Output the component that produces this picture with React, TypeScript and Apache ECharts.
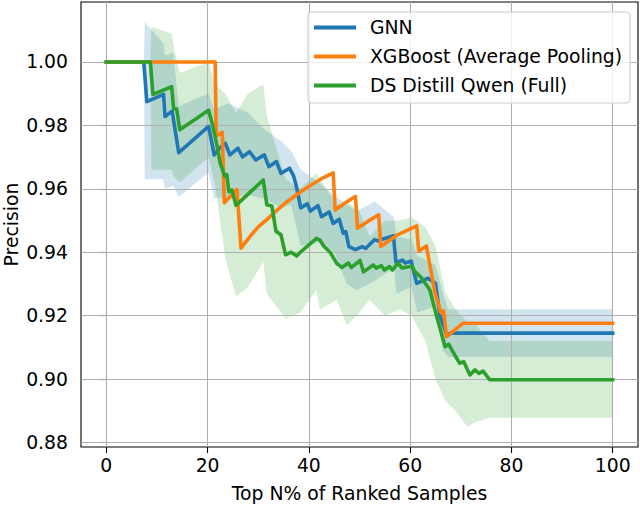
import React, { useEffect, useRef } from "react";
import * as echarts from "echarts";

const FONT = "DejaVu Sans";
const FONT_SIZE = 18.8;

const xTicks = [0, 20, 40, 60, 80, 100];
const yTicks = [0.88, 0.9, 0.92, 0.94, 0.96, 0.98, 1.0];

const names = ["GNN", "XGBoost (Average Pooling)", "DS Distill Qwen (Full)"];
const colors = ["#1f77b4", "#ff7f0e", "#2ca02c"];
const bandColors = ["rgba(31,119,180,0.2)", "rgba(44,160,44,0.2)"];

// GNN mean precision
const gnnX = [0, 7.4, 8.0, 11.3, 11.6, 13.0, 14.3, 20.2, 21.3, 22.5, 23.5, 24.4, 26.0, 26.9, 28.3, 29.5, 31.2, 32.1, 33.6, 34.5, 36.2, 37.0, 37.5, 38.4, 39.7, 40.3, 41.8, 42.5, 44.0, 44.8, 46.0, 46.8, 47.3, 47.9, 49.2, 50.5, 51.2, 53.0, 53.6, 56.7, 57.2, 58.5, 59.0, 60.2, 61.3, 63.5, 65.0, 65.9, 67.2, 68.0, 100];
const gnnY = [1.0, 1.0, 0.9875, 0.9898, 0.9828, 0.9845, 0.9714, 0.9797, 0.9707, 0.973, 0.9744, 0.9707, 0.9728, 0.9701, 0.9717, 0.9691, 0.9707, 0.967, 0.9686, 0.9649, 0.9665, 0.964, 0.961, 0.954, 0.9553, 0.953, 0.9547, 0.9512, 0.9527, 0.9491, 0.9504, 0.946, 0.9465, 0.9418, 0.9408, 0.9418, 0.9412, 0.944, 0.9436, 0.9452, 0.9368, 0.9375, 0.9366, 0.9372, 0.9302, 0.9318, 0.9302, 0.92, 0.914, 0.9145, 0.9145];

// GNN spread band
const gnnBandX = [7.4, 7.6, 11.2, 11.6, 13.2, 14.3, 17, 20.2, 21.3, 24, 28, 31, 34.5, 36.5, 38.4, 42, 45, 47.5, 49.5, 53, 56.8, 57.3, 60.3, 61.4, 65, 66.5, 67.5, 100];
const gnnBandHigh = [1.0, 1.0125, 1.006, 1.002, 1.003, 0.986, 0.988, 0.99, 0.985, 0.987, 0.984, 0.979, 0.975, 0.972, 0.966, 0.962, 0.958, 0.955, 0.953, 0.956, 0.951, 0.945, 0.944, 0.939, 0.936, 0.927, 0.922, 0.922];
const gnnBandLow = [1.0, 0.963, 0.963, 0.96, 0.961, 0.9575, 0.961, 0.965, 0.957, 0.957, 0.958, 0.957, 0.954, 0.955, 0.942, 0.943, 0.94, 0.93, 0.928, 0.931, 0.935, 0.927, 0.929, 0.921, 0.923, 0.909, 0.907, 0.907];

// XGBoost mean precision
const xgbX = [0, 21.5, 21.7, 22.9, 23.3, 25.8, 26.6, 28.5, 30.0, 31.7, 33.5, 35.5, 38.3, 40.5, 42.5, 44.8, 45.2, 47.2, 49.2, 49.6, 51.7, 53.8, 54.2, 57.5, 61.3, 61.7, 63.2, 64.9, 66.1, 66.6, 67.2, 70.4, 100];
const xgbY = [1.0, 1.0, 0.9767, 0.9778, 0.9556, 0.9598, 0.9413, 0.9452, 0.948, 0.9503, 0.953, 0.9557, 0.959, 0.9613, 0.9632, 0.965, 0.9533, 0.9556, 0.9576, 0.9476, 0.9498, 0.9518, 0.9418, 0.9455, 0.9483, 0.9403, 0.942, 0.9272, 0.9209, 0.9215, 0.9134, 0.9176, 0.9176];

// DS Distill Qwen mean precision
const dsX = [0, 8.7, 9.2, 12.9, 13.3, 13.9, 14.5, 20.2, 21.0, 21.8, 22.5, 23.4, 23.8, 24.2, 24.8, 25.6, 31.0, 31.7, 32.7, 33.5, 34.5, 35.4, 36.5, 37.6, 38.3, 41.5, 42.2, 43.0, 44.2, 45.5, 46.5, 47.8, 48.4, 50.1, 50.8, 52.7, 53.3, 54.3, 54.9, 55.9, 56.5, 57.6, 58.4, 60.3, 61.0, 62.2, 63.9, 64.9, 65.9, 66.9, 67.6, 68.8, 69.8, 70.6, 71.8, 72.8, 73.6, 74.4, 75.7, 100];
const dsY = [1.0, 1.0, 0.9898, 0.9922, 0.9852, 0.9852, 0.9786, 0.9848, 0.98, 0.974, 0.968, 0.964, 0.9645, 0.9591, 0.9596, 0.9548, 0.9628, 0.955, 0.9546, 0.9466, 0.9455, 0.9392, 0.94, 0.9388, 0.94, 0.9444, 0.9438, 0.9418, 0.94, 0.9365, 0.9352, 0.9366, 0.9352, 0.9374, 0.9338, 0.936, 0.935, 0.9358, 0.9344, 0.9355, 0.9344, 0.9366, 0.935, 0.9356, 0.9338, 0.932, 0.9281, 0.9218, 0.916, 0.9102, 0.911, 0.9076, 0.905, 0.9055, 0.9013, 0.9029, 0.9018, 0.9025, 0.8998, 0.8998];

// DS Distill Qwen spread band
const dsBandX = [8.7, 8.9, 12.9, 13.3, 14.5, 20.2, 21.5, 23.5, 25.6, 28, 31.0, 31.7, 35.4, 38.3, 41.5, 42.2, 45.5, 47.5, 50, 52, 55, 58, 60.3, 63, 65, 67, 69, 71.3, 73, 75.7, 100];
const dsBandHigh = [1.0, 1.011, 1.009, 1.005, 0.9965, 1.0, 0.993, 0.99, 0.984, 0.99, 0.993, 0.983, 0.963, 0.96, 0.965, 0.963, 0.955, 0.956, 0.953, 0.945, 0.95, 0.95, 0.951, 0.948, 0.942, 0.927, 0.922, 0.918, 0.917, 0.912, 0.912];
const dsBandLow = [1.0, 0.966, 0.966, 0.964, 0.962, 0.97, 0.961, 0.938, 0.926, 0.929, 0.937, 0.927, 0.919, 0.921, 0.928, 0.922, 0.925, 0.917, 0.921, 0.925, 0.92, 0.922, 0.92, 0.912, 0.9, 0.893, 0.89, 0.885, 0.8865, 0.8878, 0.8878];

const pairs = (xs: number[], ys: number[]) => xs.map((x, i) => [x, ys[i]]);

const bandSeries = (xs: number[], lo: number[], hi: number[], fill: string) => ({
  type: "custom",
  silent: true,
  z: 1,
  clip: true,
  data: [[xs[0], lo[0]]],
  renderItem: (_params: any, api: any) => {
    const pts: number[][] = [];
    xs.forEach((x, i) => pts.push(api.coord([x, hi[i]])));
    for (let i = xs.length - 1; i >= 0; i--) pts.push(api.coord([xs[i], lo[i]]));
    return { type: "polygon", shape: { points: pts }, style: { fill } };
  },
});

const lineSeries = (name: string, xs: number[], ys: number[], color: string, z: number) => ({
  type: "line",
  name,
  data: pairs(xs, ys),
  showSymbol: false,
  symbol: "none",
  silent: true,
  clip: true,
  z,
  itemStyle: { color },
  lineStyle: { color, width: 3.6, join: "round", cap: "square" },
});

export default function App() {
  const ref = useRef<HTMLDivElement>(null);

  useEffect(() => {
    document.body.style.margin = "0";
    if (!ref.current) return;
    const chart = echarts.init(ref.current, undefined, { renderer: "svg" });

    const tickText = { fontFamily: FONT, fontSize: FONT_SIZE, color: "#000" };

    chart.setOption({
      animation: false,
      grid: {
        left: 81,
        right: 2,
        top: 2,
        bottom: 59,
        show: true,
        borderColor: "#000",
        borderWidth: 1.1,
      },
      xAxis: {
        type: "value",
        min: -5,
        max: 105,
        splitLine: { show: false },
        axisLine: { show: false },
        axisTick: {
          show: true,
          length: 6,
          customValues: xTicks,
          lineStyle: { color: "#000", width: 1.1 },
        },
        axisLabel: {
          ...tickText,
          margin: 9,
          customValues: xTicks,
          formatter: (v: number) => String(v),
        },
      },
      yAxis: {
        type: "value",
        min: 0.87858,
        max: 1.01892,
        splitLine: { show: false },
        axisLine: { show: false },
        axisTick: {
          show: true,
          length: 6,
          customValues: yTicks,
          lineStyle: { color: "#000", width: 1.1 },
        },
        axisLabel: {
          ...tickText,
          margin: 13,
          customValues: yTicks,
          formatter: (v: number) => v.toFixed(2),
        },
      },
      legend: {
        data: names,
        orient: "vertical",
        left: 308,
        top: 12,
        icon: "rect",
        itemWidth: 42,
        itemHeight: 4,
        itemGap: 10,
        padding: [6, 8, 8, 6],
        backgroundColor: "rgba(255,255,255,0.8)",
        borderColor: "#cccccc",
        borderWidth: 1.1,
        borderRadius: 4,
        selectedMode: false,
        textStyle: { ...tickText, lineHeight: 18, padding: [0, 0, 0, 9] },
      },
      graphic: [
        {
          type: "text",
          x: 11,
          y: 224.5,
          rotation: Math.PI / 2,
          style: {
            text: "Precision",
            font: `${FONT_SIZE}px "${FONT}"`,
            fill: "#000",
            align: "center",
            verticalAlign: "middle",
          },
        },
        {
          type: "text",
          x: 359.5,
          y: 493,
          style: {
            text: "Top N% of Ranked Samples",
            font: `${FONT_SIZE}px "${FONT}"`,
            fill: "#000",
            align: "center",
            verticalAlign: "middle",
          },
        },
      ],
      series: [
        bandSeries(gnnBandX, gnnBandLow, gnnBandHigh, bandColors[0]),
        bandSeries(dsBandX, dsBandLow, dsBandHigh, bandColors[1]),
        {
          type: "line",
          name: "gridlines",
          data: [],
          silent: true,
          z: 2,
          markLine: {
            silent: true,
            z: 2,
            symbol: ["none", "none"],
            label: { show: false },
            emphasis: { disabled: true },
            lineStyle: { color: "#b0b0b0", width: 1.1, type: "solid" },
            data: [
              ...xTicks.map((v) => ({ xAxis: v })),
              ...yTicks.map((v) => ({ yAxis: v })),
            ],
          },
        },
        lineSeries(names[0], gnnX, gnnY, colors[0], 3),
        lineSeries(names[1], xgbX, xgbY, colors[1], 4),
        lineSeries(names[2], dsX, dsY, colors[2], 5),
      ],
    });

    return () => chart.dispose();
  }, []);

  return <div ref={ref} style={{ width: 640, height: 506 }} />;
}
